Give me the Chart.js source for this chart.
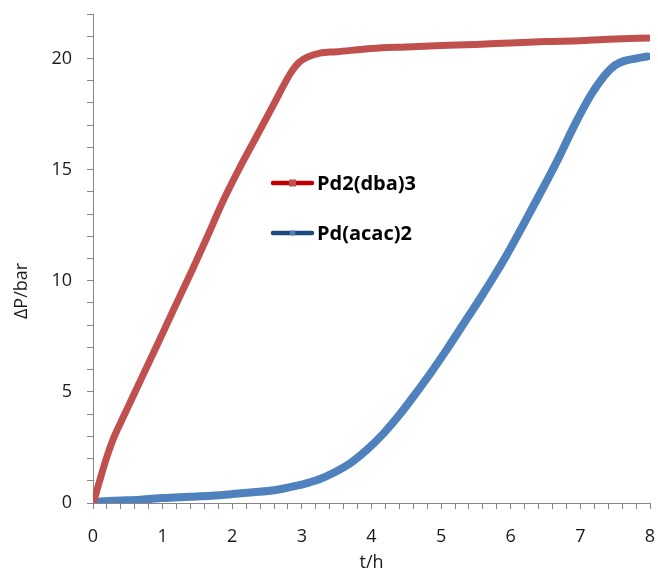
<!DOCTYPE html>
<html>
<head>
<meta charset="utf-8">
<script src="https://cdn.jsdelivr.net/npm/chart.js@4"></script>
<style>
  html, body { margin: 0; padding: 0; background: #fff; }
  #wrap { width: 658px; height: 574px; position: relative; }
</style>
</head>
<body>
<div id="wrap"><canvas id="chart"></canvas></div>
<script>
// values (t in h, dP in bar)
const dbaTimes = [0, 0.05, 0.1, 0.2, 0.3, 0.44, 0.56, 0.68, 0.8, 0.92, 1.15, 1.42, 1.63, 1.87, 2.11, 2.35, 2.59, 2.83, 2.95, 3.07, 3.26, 3.5, 4.0, 4.5, 5.0, 5.5, 6.0, 6.5, 7.0, 7.5, 8.0];
const dbaValues = [0, 0.5, 1.05, 2.08, 2.95, 3.9, 4.7, 5.5, 6.3, 7.1, 8.65, 10.45, 11.9, 13.6, 15.1, 16.5, 17.9, 19.3, 19.8, 20.05, 20.24, 20.3, 20.45, 20.52, 20.58, 20.63, 20.7, 20.76, 20.8, 20.87, 20.92];

const acacTimes = [0, 0.3, 0.68, 1.0, 1.39, 1.7, 2.0, 2.3, 2.6, 2.93, 3.1, 3.26, 3.45, 3.7, 3.93, 4.17, 4.41, 4.6, 4.85, 5.08, 5.33, 5.56, 5.76, 5.94, 6.1, 6.28, 6.52, 6.7, 6.9, 7.14, 7.38, 7.5, 7.62, 7.8, 7.96];
const acacValues = [0.05, 0.1, 0.15, 0.22, 0.28, 0.33, 0.4, 0.48, 0.57, 0.78, 0.92, 1.08, 1.35, 1.8, 2.38, 3.12, 4.0, 4.78, 5.85, 6.9, 8.1, 9.2, 10.2, 11.15, 12.05, 13.1, 14.5, 15.6, 16.9, 18.3, 19.35, 19.7, 19.88, 20.0, 20.09];

const seriesNames = ['Pd2(dba)3', 'Pd(acac)2'];

const toPoints = (xs, ys) => xs.map((x, i) => ({ x: x, y: ys[i] }));

const axisGrey = '#868686';
const labelFont = { family: 'Open Sans', size: 18 };

// legend drawn inside the plot, like the original
const insideLegend = {
    id: 'insideLegend',
    afterDraw(chart) {
        const ctx = chart.ctx;
        const rows = [
            { y: 183, line: '#C00000', mark: '#C0504D', square: true },
            { y: 233, line: '#1F497D', mark: '#4F81BD', square: false }
        ];
        ctx.save();
        rows.forEach((r, i) => {
            ctx.strokeStyle = r.line;
            ctx.lineWidth = 4.5;
            ctx.lineCap = 'round';
            ctx.beginPath();
            ctx.moveTo(273, r.y);
            ctx.lineTo(312, r.y);
            ctx.stroke();
            ctx.fillStyle = r.mark;
            if (r.square) {
                ctx.fillRect(289, r.y - 3.5, 7, 7);
            } else {
                ctx.beginPath();
                ctx.arc(292.5, r.y, 2.8, 0, Math.PI * 2);
                ctx.fill();
            }
            ctx.fillStyle = '#000';
            ctx.font = 'bold 20px "Open Sans"';
            ctx.textBaseline = 'middle';
            ctx.textAlign = 'left';
            ctx.fillText(seriesNames[i], 317, r.y + 1);
        });
        // y axis title
        ctx.translate(22, 291);
        ctx.rotate(-Math.PI / 2);
        ctx.fillStyle = '#1a1a1a';
        ctx.font = '18px "Open Sans"';
        ctx.textAlign = 'center';
        ctx.textBaseline = 'middle';
        ctx.fillText('\u0394P/bar', 0, 0);
        ctx.restore();
    }
};

new Chart(document.getElementById('chart'), {
    type: 'line',
    data: {
        datasets: [
            {
                label: seriesNames[0],
                data: toPoints(dbaTimes, dbaValues),
                borderColor: '#C0504D',
                borderWidth: 7,
                borderCapStyle: 'butt',
                pointRadius: 0,
                cubicInterpolationMode: 'monotone',
                fill: false
            },
            {
                label: seriesNames[1],
                data: toPoints(acacTimes, acacValues),
                borderColor: '#4F81BD',
                borderWidth: 8,
                borderCapStyle: 'round',
                pointRadius: 0,
                cubicInterpolationMode: 'monotone',
                fill: false
            }
        ]
    },
    options: {
        responsive: true,
        maintainAspectRatio: false,
        animation: false,
        layout: { padding: { top: 14, right: 8, left: 0, bottom: 0 } },
        plugins: {
            legend: { display: false },
            tooltip: { enabled: false }
        },
        scales: {
            x: {
                type: 'linear',
                min: 0,
                max: 8,
                afterFit(scale) {
                    scale.height = 71;
                    scale.paddingLeft = 0;
                    scale.paddingRight = 0;
                },
                border: { color: axisGrey, width: 1 },
                grid: { drawOnChartArea: false, drawTicks: true, tickLength: 6, color: axisGrey },
                ticks: {
                    stepSize: 0.2,
                    autoSkip: false,
                    maxRotation: 0,
                    padding: 17,
                    color: '#1a1a1a',
                    font: labelFont,
                    callback: v => Math.abs(v - Math.round(v)) < 1e-6 ? String(Math.round(v)) : ''
                },
                title: {
                    display: true,
                    text: 't/h',
                    color: '#1a1a1a',
                    font: labelFont,
                    padding: { top: 0, bottom: 0 }
                }
            },
            y: {
                min: 0,
                max: 22,
                afterFit(scale) {
                    scale.width = 93;
                    scale.paddingTop = 0;
                    scale.paddingBottom = 0;
                },
                border: { color: axisGrey, width: 1 },
                grid: { drawOnChartArea: false, drawTicks: true, tickLength: 6, color: axisGrey },
                ticks: {
                    stepSize: 1,
                    autoSkip: false,
                    padding: 15,
                    color: '#1a1a1a',
                    font: labelFont,
                    callback: v => v % 5 === 0 ? String(v) : ''
                }
            }
        }
    },
    plugins: [insideLegend]
});
</script>
</body>
</html>
